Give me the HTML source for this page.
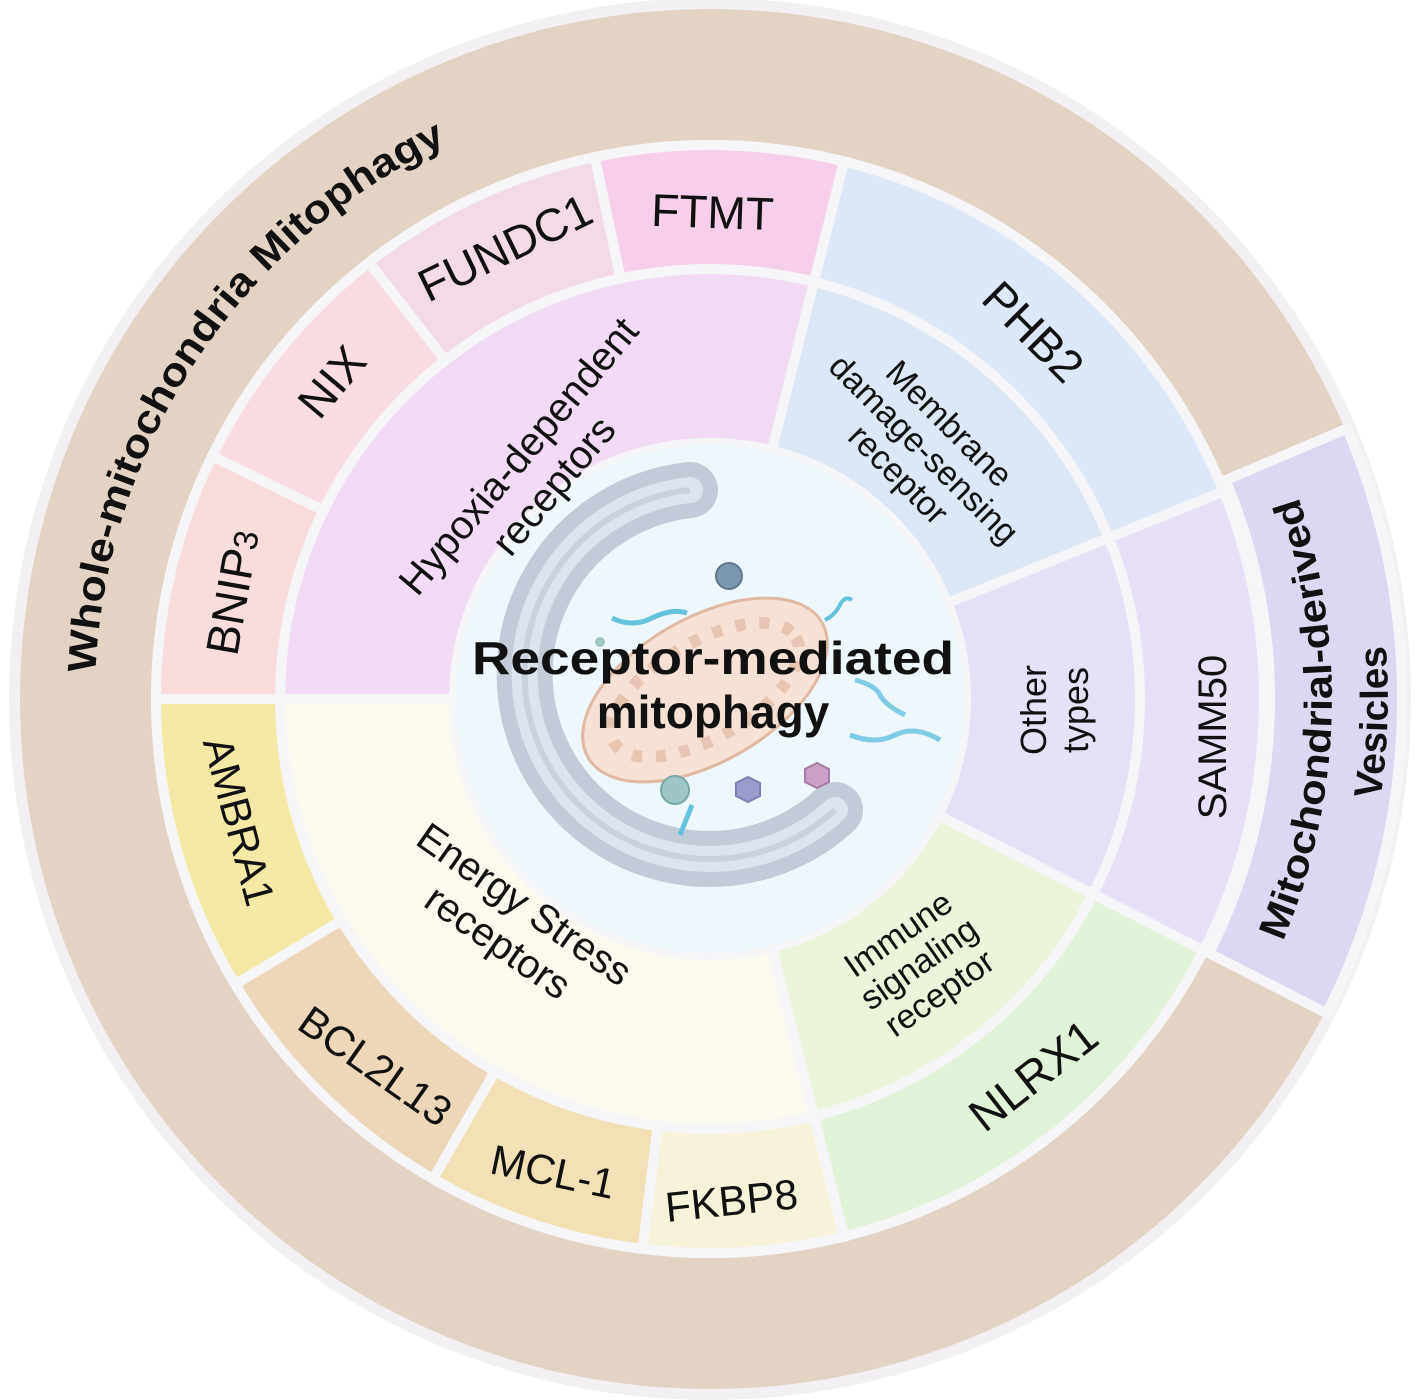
<!DOCTYPE html>
<html><head><meta charset="utf-8"><style>
html,body{margin:0;padding:0;background:#fff}
svg{display:block}
text{font-family:"Liberation Sans",Arial,sans-serif;fill:#111}
</style></head><body>
<svg id="s" width="1418" height="1400" viewBox="0 0 1418 1400" xmlns="http://www.w3.org/2000/svg">
<circle cx="710" cy="699" r="701" fill="#f2f0f3"/>
<circle cx="710" cy="699" r="690" fill="#e3d3c5"/>
<circle cx="710" cy="699" r="559" fill="#f6f6f9"/>
<g id="segs"></g>
<circle cx="710" cy="699" r="257" fill="#eef8fc" stroke="#f6f6f9" stroke-width="6"/>
<g>
<path d="M690,490 A185,185 0 1 0 835,810" fill="none" stroke="#c3cbd8" stroke-width="56" stroke-linecap="round"/>
<path d="M690,490 A185,185 0 1 0 835,810" fill="none" stroke="#dbe3ed" stroke-width="26" stroke-linecap="round"/>
<path d="M690,490 A185,185 0 1 0 835,810" fill="none" stroke="#c9d1dd" stroke-width="6"/>
<ellipse cx="705" cy="690" rx="135" ry="72" transform="rotate(-30 705 690)" fill="#f5e1d5" stroke="#dfb9a2" stroke-width="3"/>
<ellipse cx="705" cy="690" rx="105" ry="48" transform="rotate(-30 705 690)" fill="none" stroke="#e6c6b2" stroke-width="12" stroke-dasharray="10 14"/>
<circle cx="729" cy="576" r="13" fill="#7b96ad" stroke="#61788c" stroke-width="2"/>
<circle cx="675" cy="790" r="14" fill="#9cc7c6" stroke="#7aa6a6" stroke-width="2"/>
<circle cx="600" cy="642" r="5" fill="#9cc7c6"/>
<polygon points="748,777 760,783 760,796 748,802 736,796 736,783" fill="#9a9ccd" stroke="#7d80b4" stroke-width="2"/>
<polygon points="817,763 829,769 829,782 817,788 805,782 805,769" fill="#c9a0c6" stroke="#a57ca3" stroke-width="2"/>
<path d="M612,618 q20,10 40,0 t35,-5" fill="none" stroke="#66c3e0" stroke-width="5"/>
<path d="M825,620 q10,-5 15,-15 t12,-5" fill="none" stroke="#66c3e0" stroke-width="4"/>
<path d="M855,680 q20,5 25,15 t25,20" fill="none" stroke="#7fcce6" stroke-width="5"/>
<path d="M850,735 q25,10 45,0 t45,5" fill="none" stroke="#7fcce6" stroke-width="5"/>
<path d="M680,835 l12,-30" fill="none" stroke="#66c3e0" stroke-width="5"/>
</g>
<text x="713" y="674" text-anchor="middle" font-weight="bold" font-size="46" textLength="482" lengthAdjust="spacingAndGlyphs">Receptor-mediated</text>
<text x="713" y="728" text-anchor="middle" font-weight="bold" font-size="46">mitophagy</text>

<defs>
<path id="arcW" d="M101,785 A615,615 0 0 1 551,105"/>
<path id="arcM1" d="M1237.5,1028.6 A622,622 0 0 0 1259,407"/>
<path id="arcM2" d="M1285,1058 A678,678 0 0 0 1308.6,381"/>
</defs>
<text font-weight="bold" font-size="40"><textPath href="#arcW" startOffset="112" textLength="668" lengthAdjust="spacingAndGlyphs">Whole-mitochondria Mitophagy</textPath></text>
<text font-weight="bold" font-size="39" text-anchor="middle"><textPath href="#arcM1" startOffset="50%" textLength="455" lengthAdjust="spacingAndGlyphs">Mitochondrial-derived</textPath></text>
<text font-weight="bold" font-size="39" text-anchor="middle"><textPath href="#arcM2" startOffset="50%">Vesicles</textPath></text>

<g font-size="46" text-anchor="middle">
<text transform="translate(712,228) rotate(2)">FTMT</text>
<text transform="translate(512,262) rotate(-26)">FUNDC1</text>
<text transform="translate(344,392) rotate(-50)">NIX</text>
<text transform="translate(248,595) rotate(-80)">BNIP<tspan font-size="34">3</tspan></text>
<text transform="translate(1022,343) rotate(45)">PHB2</text>
<text transform="translate(1226,737) rotate(-90)" font-size="40">SAMM50</text>
<text transform="translate(1043,1088) rotate(-38)">NLRX1</text>
<text transform="translate(733,1215) rotate(-6)" font-size="42">FKBP8</text>
<text transform="translate(550,1186) rotate(12)" font-size="42">MCL-1</text>
<text transform="translate(367,1078) rotate(35)" font-size="42">BCL2L13</text>
<text transform="translate(225,825) rotate(75)" font-size="42">AMBRA1</text>
</g>
<g text-anchor="middle">
<text transform="translate(535,470) rotate(-50)" font-size="40"><tspan x="0" y="-8">Hypoxia-dependent</tspan><tspan x="0" dy="46">receptors</tspan></text>
<text transform="translate(512,922) rotate(35)" font-size="40"><tspan x="0" y="-8">Energy Stress</tspan><tspan x="0" dy="46">receptors</tspan></text>
<text transform="translate(920,453) rotate(45)" font-size="34"><tspan x="0" y="-30">Membrane</tspan><tspan x="0" dy="36">damage-sensing</tspan><tspan x="0" dy="36">receptor</tspan></text>
<text transform="translate(1054,710) rotate(-90)" font-size="36"><tspan x="0" y="-8">Other</tspan><tspan x="0" dy="42">types</tspan></text>
<text transform="translate(922,968) rotate(-35)" font-size="34"><tspan x="0" y="-30">Immune</tspan><tspan x="0" dy="36">signaling</tspan><tspan x="0" dy="36">receptor</tspan></text>
</g>
</svg>
<script>
(function(){
var cx=710,cy=699,g=document.getElementById('segs'),NS='http://www.w3.org/2000/svg';
function p(b,r){var a=b*Math.PI/180;return (cx+r*Math.sin(a)).toFixed(1)+','+(cy-r*Math.cos(a)).toFixed(1);}
function sec(b1,b2,r1,r2,c){var lg=(b2-b1)>180?1:0;
var d='M'+p(b1,r2)+' A'+r2+','+r2+' 0 '+lg+' 1 '+p(b2,r2)+' L'+p(b2,r1)+' A'+r1+','+r1+' 0 '+lg+' 0 '+p(b1,r1)+' Z';
var e=document.createElementNS(NS,'path');e.setAttribute('d',d);e.setAttribute('fill',c);e.setAttribute('stroke','#f6f6f9');e.setAttribute('stroke-width','10');g.appendChild(e);}
var L=[
[270,374,256,430,'#f2dcf5'],[14,68,256,430,'#dce8f6'],[68,117,256,430,'#e6e1f6'],[117,166,256,430,'#ebf5dc'],[166,270,256,430,'#fcf9ee'],
[270,296,430,554,'#f9dcdc'],[296,322,430,554,'#f9dde3'],[322,348,430,554,'#f2dbe7'],[348,374,430,554,'#f6d0ea'],
[14,68,430,554,'#dde9f8'],[68,117,430,554,'#e7e0f7'],[117,166,430,554,'#e1f3d9'],
[166,187,430,554,'#f7f2da'],[187,210,430,554,'#f2e1b6'],[210,239,430,554,'#ecd7ba'],[239,270,430,554,'#f4e9a5'],
[67,117,560,692,'#dcd8f1']];
L.forEach(function(s){sec(s[0],s[1],s[2],s[3],s[4]);});
})();
</script>
</body></html>
